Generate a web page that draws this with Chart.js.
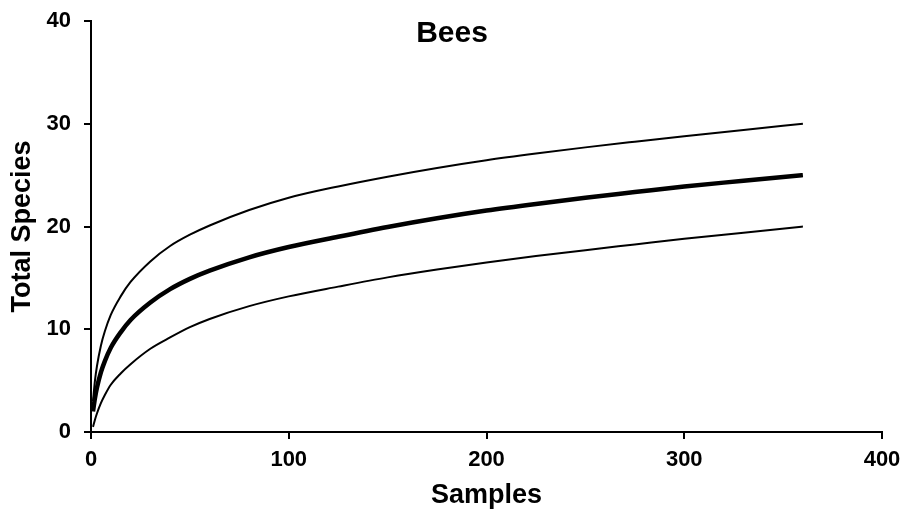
<!DOCTYPE html>
<html>
<head>
<meta charset="utf-8">
<script src="https://cdn.jsdelivr.net/npm/chart.js@4/dist/chart.umd.min.js"></script>
<style>
  html, body { margin: 0; padding: 0; background: #fff; }
  #wrap { width: 908px; height: 521px; }
</style>
</head>
<body>
<div id="wrap"><canvas id="c" width="908" height="521"></canvas></div>
<script>
// Species accumulation: sample counts and estimated species totals
const samples = [1, 2, 3, 5, 7, 10, 15, 20, 30, 40, 50, 60, 80, 100, 125, 150, 175, 200, 225, 250, 275, 300, 330, 360];
const meanSpecies = [2.0, 3.3, 4.3, 5.8, 6.9, 8.2, 9.7, 10.9, 12.6, 13.9, 14.9, 15.7, 17.0, 18.0, 19.0, 19.95, 20.8, 21.55, 22.2, 22.8, 23.35, 23.9, 24.45, 25.0];
const upperSpecies = [3.0, 5.0, 6.4, 8.4, 9.8, 11.4, 13.2, 14.6, 16.6, 18.1, 19.2, 20.1, 21.6, 22.8, 23.9, 24.85, 25.7, 26.45, 27.1, 27.7, 28.25, 28.78, 29.4, 30.0];
const lowerSpecies = [0.5, 1.2, 1.8, 2.8, 3.6, 4.6, 5.7, 6.6, 8.1, 9.2, 10.2, 11.0, 12.25, 13.2, 14.15, 15.05, 15.82, 16.5, 17.12, 17.7, 18.25, 18.8, 19.4, 20.0];
const xTicks = [0, 100, 200, 300, 400];
const yTicks = [0, 10, 20, 30, 40];
const chartTitle = 'Bees';

const toPoints = (ys) => samples.map((s, i) => ({ x: s, y: ys[i] }));

const font = (size) => ({ family: '"Liberation Sans", Arial, sans-serif', size, weight: 'bold' });

const lineStyle = (w) => ({
  borderColor: '#000',
  borderWidth: w,
  pointRadius: 0,
  fill: false,
  cubicInterpolationMode: 'monotone'
});

// Title drawn over the plot area
const titlePlugin = {
  id: 'overlayTitle',
  afterDraw(chart) {
    const ctx = chart.ctx;
    ctx.save();
    ctx.font = 'bold 30px "Liberation Sans", Arial, sans-serif';
    ctx.fillStyle = '#000';
    ctx.textAlign = 'center';
    ctx.textBaseline = 'middle';
    ctx.fillText(chartTitle, 452, 34);
    ctx.restore();
  }
};

new Chart(document.getElementById('c'), {
  type: 'line',
  data: {
    datasets: [
      Object.assign({ label: 'Upper', data: toPoints(upperSpecies) }, lineStyle(2)),
      Object.assign({ label: 'Mean', data: toPoints(meanSpecies) }, lineStyle(4.5)),
      Object.assign({ label: 'Lower', data: toPoints(lowerSpecies) }, lineStyle(2))
    ]
  },
  options: {
    responsive: false,
    animation: false,
    layout: { padding: { top: 21, right: 26, left: 0, bottom: 0 } },
    plugins: { legend: { display: false }, tooltip: { enabled: false } },
    scales: {
      x: {
        type: 'linear',
        min: 0, max: 400,
        afterBuildTicks: (s) => { s.ticks = xTicks.map(v => ({ value: v })); },
        afterFit: (s) => { s.height = 89; s.paddingLeft = 0; s.paddingRight = 0; },
        border: { color: '#000', width: 2 },
        grid: { drawOnChartArea: false, tickLength: 7, color: '#000', lineWidth: 2 },
        ticks: { color: '#000', font: font(22), padding: 8, maxRotation: 0 },
        title: { display: true, text: 'Samples', color: '#000', font: font(27), padding: { top: 0, bottom: 9 } }
      },
      y: {
        min: 0, max: 40,
        afterBuildTicks: (s) => { s.ticks = yTicks.map(v => ({ value: v })); },
        afterFit: (s) => { s.width = 91; s.paddingTop = 0; s.paddingBottom = 0; },
        border: { color: '#000', width: 2 },
        grid: { drawOnChartArea: false, tickLength: 7, color: '#000', lineWidth: 2 },
        ticks: { color: '#000', font: font(22), padding: 13 },
        title: { display: true, text: 'Total Species', color: '#000', font: font(27), padding: { top: 6, bottom: 0 } }
      }
    }
  },
  plugins: [titlePlugin]
});
</script>
</body>
</html>
